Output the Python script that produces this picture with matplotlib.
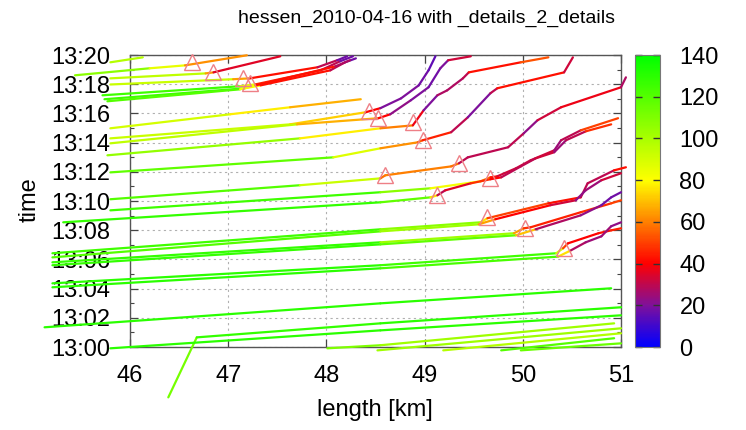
import matplotlib
matplotlib.use("Agg")
import numpy as np
from matplotlib import pyplot as plt
from matplotlib.collections import LineCollection
from matplotlib.colors import LinearSegmentedColormap, Normalize
from matplotlib.cm import ScalarMappable

plt.rcParams["font.family"] = ["Liberation Sans", "DejaVu Sans"]

# vehicle trajectories: position [km], minutes after 13:00, speed [km/h]
t01_km = [45.44, 46.20, 46.56, 47.19]
t01_min = [18.61, 19.09, 19.29, 19.98]
t01_kmh = [115, 100, 70, 55]

t02_km = [45.80, 46.77, 46.85, 47.53]
t02_min = [18.40, 18.74, 18.81, 19.91]
t02_kmh = [100, 90, 40, 30]

t03_km = [45.80, 47.05, 47.22, 47.91, 48.11, 48.21]
t03_min = [17.98, 18.34, 18.40, 19.16, 19.64, 19.91]
t03_kmh = [100, 85, 45, 40, 20, 15]

t04_km = [45.72, 47.12, 47.28, 47.94, 48.14, 48.27]
t04_min = [17.24, 17.86, 17.99, 18.95, 19.57, 19.91]
t04_kmh = [130, 120, 50, 40, 20, 15]

t05_km = [45.74, 47.17, 47.33, 48.04, 48.19, 48.30]
t05_min = [16.97, 17.72, 17.92, 18.95, 19.50, 19.77]
t05_kmh = [130, 120, 45, 40, 20, 15]

t06_km = [45.77, 47.12, 47.28, 48.09, 48.24]
t06_min = [16.83, 17.65, 17.92, 19.22, 19.64]
t06_kmh = [125, 115, 50, 35, 20]

t07_km = [45.80, 47.02, 47.63, 48.35]
t07_min = [14.98, 15.94, 16.42, 16.97]
t07_kmh = [95, 85, 70, 65]

t08_km = [45.80, 47.63, 48.40, 48.55, 48.76, 48.94, 49.04, 49.11]
t08_min = [14.29, 15.25, 16.08, 16.36, 17.03, 17.92, 18.95, 19.91]
t08_kmh = [100, 85, 60, 20, 20, 20, 15, 15]

t09_km = [45.80, 47.70, 48.53, 48.65, 48.86, 49.04, 49.16, 49.24, 49.47]
t09_min = [13.95, 15.25, 15.67, 15.94, 16.90, 17.79, 19.09, 19.64, 19.91]
t09_kmh = [110, 80, 55, 25, 20, 20, 15, 25, 40]

t10_km = [45.77, 47.73, 48.55, 48.88, 48.99, 49.13, 49.23, 49.39, 49.45, 49.98, 50.26]
t10_min = [13.13, 14.29, 14.98, 15.18, 16.21, 17.24, 17.58, 18.40, 18.81, 19.50, 19.84]
t10_kmh = [120, 90, 65, 55, 20, 20, 35, 20, 40, 45, 60]

t11_km = [45.80, 48.07, 48.55, 48.93, 48.98, 49.27, 49.44, 49.67, 49.74, 50.42, 50.51]
t11_min = [11.96, 12.99, 13.61, 14.02, 14.16, 14.71, 15.73, 17.38, 17.72, 18.81, 19.84]
t11_kmh = [125, 110, 65, 60, 50, 40, 20, 20, 40, 45, 20]

t12_km = [45.80, 47.73, 48.55, 48.60, 49.27, 49.35, 49.44, 49.85, 50.01, 50.15, 50.39, 51.00, 51.05]
t12_min = [10.12, 11.08, 11.55, 11.76, 12.37, 12.58, 12.99, 13.68, 14.64, 15.53, 16.42, 17.79, 18.47]
t12_kmh = [125, 115, 70, 45, 75, 40, 20, 40, 20, 25, 40, 35, 20]

t13_km = [45.80, 48.55, 49.06, 49.57, 49.67, 49.74, 49.93, 50.08, 50.32, 50.39, 50.59, 50.97]
t13_min = [9.36, 10.60, 10.87, 11.35, 11.62, 11.69, 12.24, 12.79, 13.47, 14.16, 14.84, 15.67]
t13_kmh = [130, 120, 95, 70, 50, 35, 30, 35, 30, 20, 40, 60]

t14_km = [45.32, 48.55, 49.06, 49.13, 49.21, 49.47, 49.67, 49.78, 49.98, 50.13, 50.32, 50.44, 50.64, 50.90]
t14_min = [8.54, 9.91, 10.25, 10.39, 10.73, 11.21, 11.49, 11.62, 12.37, 12.92, 13.34, 14.16, 14.77, 15.25]
t14_kmh = [130, 125, 110, 40, 20, 50, 45, 35, 25, 35, 30, 20, 40, 55]

t15_km = [45.21, 48.55, 49.57, 49.64, 50.26, 50.59, 50.66, 50.93, 51.05]
t15_min = [6.42, 8.06, 8.54, 8.82, 9.84, 10.25, 11.21, 12.10, 12.31]
t15_kmh = [130, 120, 95, 55, 45, 40, 20, 40, 45]

t16_km = [45.21, 48.55, 49.55, 49.72, 50.28, 50.54, 50.64, 50.80, 51.00]
t16_min = [6.14, 7.92, 8.40, 8.75, 9.71, 10.05, 10.73, 11.42, 11.90]
t16_kmh = [125, 115, 90, 40, 40, 25, 20, 30, 35]

t17_km = [45.21, 48.55, 49.91, 50.01, 50.08, 50.59, 50.90, 51.00]
t17_min = [5.80, 7.17, 7.79, 8.13, 8.20, 9.23, 9.84, 10.05]
t17_kmh = [130, 125, 80, 50, 45, 45, 50, 50]

t18_km = [45.21, 48.55, 49.93, 50.13, 50.59, 50.80, 50.90, 51.00]
t18_min = [5.60, 7.03, 7.65, 8.06, 9.02, 9.71, 10.25, 10.60]
t18_kmh = [130, 125, 110, 30, 25, 20, 15, 20]

t19_km = [45.21, 48.55, 50.34, 50.41, 50.46, 50.77, 50.90, 51.00]
t19_min = [4.36, 5.60, 6.42, 6.76, 7.10, 7.79, 7.99, 8.13]
t19_kmh = [130, 130, 120, 60, 40, 40, 45, 45]

t20_km = [45.21, 48.55, 50.36, 50.49, 50.64, 50.80, 50.90, 51.00]
t20_min = [4.09, 5.39, 6.19, 6.62, 7.17, 7.58, 8.27, 8.54]
t20_kmh = [130, 130, 115, 35, 20, 30, 20, 25]

t21_km = [45.13, 48.55, 50.90]
t21_min = [1.35, 2.99, 4.02]
t21_kmh = [130, 130, 130]

t22_km = [46.39, 46.68, 48.55, 51.00]
t22_min = [-3.45, 0.66, 1.62, 2.72]
t22_kmh = [100, 125, 130, 130]

t23_km = [45.80, 48.55, 51.00]
t23_min = [-0.09, 1.14, 2.17]
t23_kmh = [130, 130, 130]

t24_km = [48.01, 48.55, 50.93]
t24_min = [-0.09, 0.12, 1.62]
t24_kmh = [115, 105, 100]

t25_km = [48.52, 51.00]
t25_min = [-0.23, 1.28]
t25_kmh = [105, 100]

t26_km = [49.19, 51.00]
t26_min = [-0.23, 0.94]
t26_kmh = [100, 95]

t27_km = [49.78, 50.93]
t27_min = [-0.23, 0.60]
t27_kmh = [115, 125]

t28_km = [49.98, 51.00]
t28_min = [-0.23, 0.25]
t28_kmh = [110, 120]

t29_km = [45.80, 46.13]
t29_min = [19.50, 19.84]
t29_kmh = [100, 95]

# detected jam fronts
tri_km = [46.63, 46.85, 47.15, 47.22, 48.43, 48.53, 48.88, 48.98, 49.35, 48.60, 49.67, 49.13, 49.64, 50.02, 50.42]
tri_min = [19.50, 18.82, 18.40, 18.06, 16.14, 15.67, 15.39, 14.16, 12.59, 11.77, 11.56, 10.39, 8.88, 8.13, 6.76]

y_ticks = [0, 2, 4, 6, 8, 10, 12, 14, 16, 18, 20]
y_labels = ["13:%02d" % m for m in y_ticks]
x_ticks = [46, 47, 48, 49, 50, 51]
cb_ticks = [0, 20, 40, 60, 80, 100, 120, 140]

trips = [
    (t01_km, t01_min, t01_kmh), (t02_km, t02_min, t02_kmh), (t03_km, t03_min, t03_kmh),
    (t04_km, t04_min, t04_kmh), (t05_km, t05_min, t05_kmh), (t06_km, t06_min, t06_kmh),
    (t07_km, t07_min, t07_kmh), (t08_km, t08_min, t08_kmh), (t09_km, t09_min, t09_kmh),
    (t10_km, t10_min, t10_kmh), (t11_km, t11_min, t11_kmh), (t12_km, t12_min, t12_kmh),
    (t13_km, t13_min, t13_kmh), (t14_km, t14_min, t14_kmh), (t15_km, t15_min, t15_kmh),
    (t16_km, t16_min, t16_kmh), (t17_km, t17_min, t17_kmh), (t18_km, t18_min, t18_kmh),
    (t19_km, t19_min, t19_kmh), (t20_km, t20_min, t20_kmh), (t21_km, t21_min, t21_kmh),
    (t22_km, t22_min, t22_kmh), (t23_km, t23_min, t23_kmh), (t24_km, t24_min, t24_kmh),
    (t25_km, t25_min, t25_kmh), (t26_km, t26_min, t26_kmh), (t27_km, t27_min, t27_kmh),
    (t28_km, t28_min, t28_kmh), (t29_km, t29_min, t29_kmh),
]

cmap = LinearSegmentedColormap.from_list(
    "speed",
    [(0.0, "#0000ff"), (20 / 140, "#80109a"), (40 / 140, "#ff0000"),
     (60 / 140, "#ff8000"), (80 / 140, "#ffff00"), (1.0, "#00ff00")],
)
norm = Normalize(0, 140)

fig = plt.figure(figsize=(7.46, 4.30), dpi=100)
ax = fig.add_axes([130 / 746, 83 / 430, 491 / 746, 292 / 430])
cax = fig.add_axes([635 / 746, 83 / 430, 25 / 746, 292 / 430])

for km, mins, kmh in trips:
    pts = np.column_stack([km, mins])
    segs = np.stack([pts[:-1], pts[1:]], axis=1)
    v = np.asarray(kmh, dtype=float)
    lc = LineCollection(segs, colors=cmap(norm((v[:-1] + v[1:]) / 2)),
                        linewidths=1.6, capstyle="round", joinstyle="round", zorder=3)
    lc.set_clip_on(False)
    ax.add_collection(lc)

ax.plot(tri_km, tri_min, linestyle="none", marker="^", markersize=11,
        markerfacecolor="none", markeredgecolor="#ee7f86", markeredgewidth=1.0,
        clip_on=False, zorder=4)

ax.set_xlim(46, 51)
ax.set_ylim(0, 20)
ax.set_xticks(x_ticks)
ax.set_xticklabels([str(x) if x < 51 else "51" for x in x_ticks])
ax.set_yticks(y_ticks)
ax.set_yticklabels(y_labels)
ax.set_yticks(np.arange(1, 20, 2), minor=True)
ax.grid(True, color="#b0b0b0", linestyle=(0, (2, 3)), linewidth=0.8)
ax.tick_params(direction="in", length=6, width=0.9, color="#444444",
               top=True, right=True, labelsize=17)
ax.tick_params(axis="y", pad=14)
ax.tick_params(axis="x", pad=13)
ax.tick_params(which="minor", direction="in", length=3, width=0.8,
               color="#444444", right=True, left=True)
for s in ax.spines.values():
    s.set_color("#555555")
    s.set_linewidth(1.0)

sm = ScalarMappable(norm=norm, cmap=cmap)
cb = fig.colorbar(sm, cax=cax, ticks=cb_ticks)
cb.outline.set_edgecolor("#777777")
cax.tick_params(direction="in", length=5, width=1.0, color="#333333",
                left=True, right=True, labelsize=17, pad=14)

fig.text(426 / 746, 1 - 18 / 430, "hessen_2010-04-16 with _details_2_details",
         ha="center", va="center", fontsize=14)
fig.text(30 / 746, 1 - 200 / 430, "time", rotation=90,
         ha="center", va="center", fontsize=17)
fig.text(375 / 746, 1 - 410 / 430, "length [km]", ha="center", va="center", fontsize=17)

fig.savefig("out.png", dpi=100)
